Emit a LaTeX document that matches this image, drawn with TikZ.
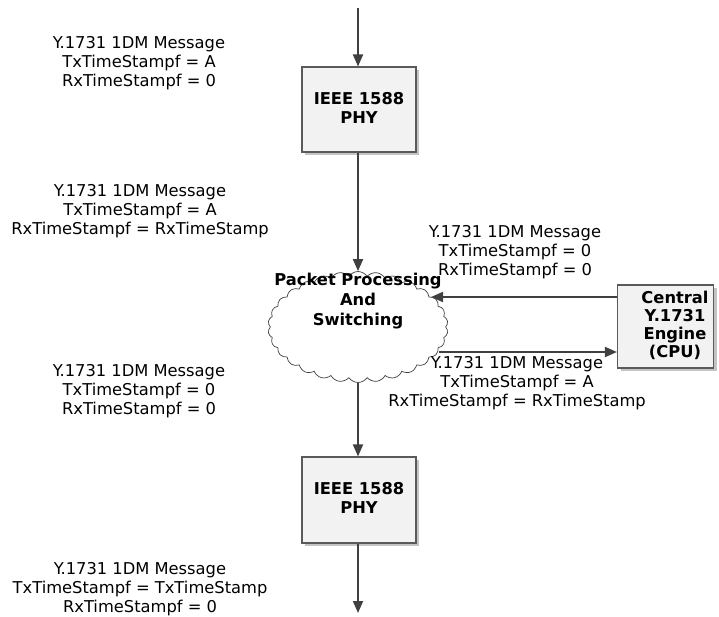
\documentclass[tikz,border=0pt]{standalone}
\usepackage{fontspec}
\setmainfont{DejaVu Sans}
\usetikzlibrary{arrows.meta,shapes.symbols,shadows}
\definecolor{linec}{HTML}{404040}
\definecolor{boxfill}{HTML}{F2F2F2}
\definecolor{boxline}{HTML}{5A5A5A}
\definecolor{shadowc}{HTML}{C4C4C4}
\tikzset{
  box/.style={draw=boxline, line width=1.1pt, fill=boxfill, inner sep=0pt,
    drop shadow={shadow xshift=3pt, shadow yshift=-3pt, fill=shadowc, opacity=1}},
  boldtxt/.style={font=\fontsize{16.3}{18.5}\selectfont\bfseries, align=center, inner sep=0pt},
  msg/.style={font=\fontsize{16.3}{19}\selectfont, align=center, inner sep=0pt},
  arr/.style={draw=linec, line width=1.8pt, -{Triangle[length=12pt,width=10pt]}}
}
\begin{document}
\begin{tikzpicture}[x=1pt,y=-1pt]
\useasboundingbox (0,0) rectangle (719,617);
% boxes
\node[box, minimum width=114pt, minimum height=85pt] (phy1) at (359,109.5) {};
\node[boldtxt] (phy1t) at (359,108) {IEEE 1588\\PHY};
\node[box, minimum width=114pt, minimum height=86pt] (phy2) at (359,500) {};
\node[boldtxt] (phy2t) at (359,498) {IEEE 1588\\PHY};
\node[box, minimum width=96pt, minimum height=83pt] (cpu) at (665.5,326.5) {};
\node[boldtxt, font=\fontsize{16.3}{18}\selectfont\bfseries] (cput) at (675,325) {Central\\Y.1731\\Engine\\(CPU)};
% cloud
\node[cloud, cloud puffs=30, cloud puff arc=110, cloud ignores aspect, minimum width=180pt, minimum height=111pt,
  draw=black!75, line width=0.7pt, fill=white, inner sep=0pt] (cloud) at (358,327) {};
\node[boldtxt, font=\fontsize{16.3}{20}\selectfont\bfseries] (cloudt) at (358,301) {Packet Processing\\And\\Switching};
% coordinates
\coordinate (topin) at (358,8);
\coordinate (botout) at (358,613);
\coordinate (inR) at (431,297);
\coordinate (outR) at (439,352);
% connectors
\draw[arr] (topin) -- (phy1.north -| topin);
\draw[arr] (phy1.south -| topin) -- (cloud.north -| topin);
\draw[arr] (cloud.south -| topin) -- (phy2.north -| topin);
\draw[arr] (phy2.south -| topin) -- (botout);
\draw[arr] (cpu.west |- inR) -- (inR);
\draw[arr] (outR) -- (cpu.west |- outR);
% labels
\node[msg] (m1) at (139,63) {Y.1731 1DM Message\\TxTimeStampf = A\\RxTimeStampf = 0};
\node[msg] (m2) at (140,211) {Y.1731 1DM Message\\TxTimeStampf = A\\RxTimeStampf = RxTimeStamp};
\node[msg] (m3) at (515,252) {Y.1731 1DM Message\\TxTimeStampf = 0\\RxTimeStampf = 0};
\node[msg] (m4) at (517,383) {Y.1731 1DM Message\\TxTimeStampf = A\\RxTimeStampf = RxTimeStamp};
\node[msg] (m5) at (139,391) {Y.1731 1DM Message\\TxTimeStampf = 0\\RxTimeStampf = 0};
\node[msg] (m6) at (140,589) {Y.1731 1DM Message\\TxTimeStampf = TxTimeStamp\\RxTimeStampf = 0};
\end{tikzpicture}
\end{document}
